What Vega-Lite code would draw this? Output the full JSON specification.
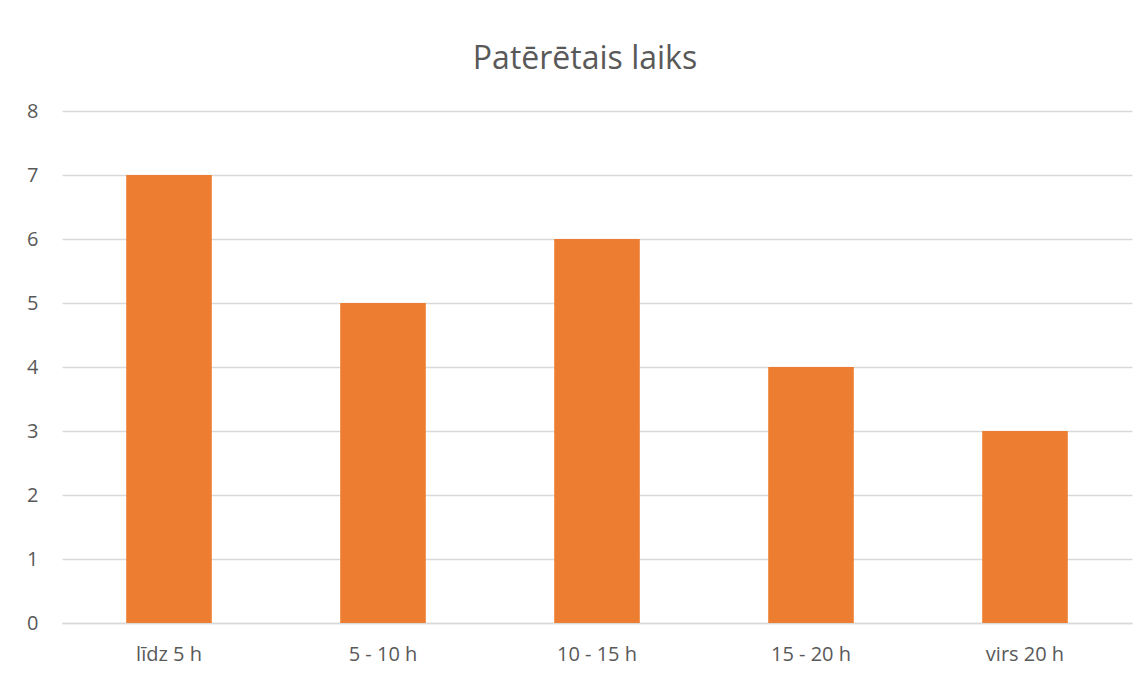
{
  "$schema": "https://vega.github.io/schema/vega-lite/v6.json",
  "width": 1070,
  "height": 512,
  "autosize": "none",
  "padding": {"left": 62, "top": 111, "right": 15, "bottom": 54},
  "background": "white",
  "title": {
    "text": "Patērētais laiks",
    "font": "Open Sans",
    "fontSize": 32,
    "fontWeight": "normal",
    "color": "#595959",
    "anchor": "middle",
    "dx": -12,
    "offset": 25
  },
  "data": {
    "values": [
      {"kategorija": "līdz 5 h", "skaits": 7},
      {"kategorija": "5 - 10 h", "skaits": 5},
      {"kategorija": "10 - 15 h", "skaits": 6},
      {"kategorija": "15 - 20 h", "skaits": 4},
      {"kategorija": "virs 20 h", "skaits": 3}
    ]
  },
  "mark": {"type": "bar", "color": "#ED7D31"},
  "encoding": {
    "x": {
      "field": "kategorija",
      "type": "nominal",
      "sort": null,
      "scale": {"paddingInner": 0.6, "paddingOuter": 0.3},
      "axis": {
        "title": null,
        "labelAngle": 0,
        "labelFont": "Open Sans",
        "labelFontSize": 20,
        "labelColor": "#595959",
        "labelPadding": 21,
        "ticks": false,
        "domainColor": "#D9D9D9",
        "domainWidth": 1.3,
        "grid": false
      }
    },
    "y": {
      "field": "skaits",
      "type": "quantitative",
      "scale": {"domain": [0, 8], "nice": false},
      "axis": {
        "title": null,
        "values": [0, 1, 2, 3, 4, 5, 6, 7, 8],
        "labelOverlap": false,
        "labelFont": "Open Sans",
        "labelFontSize": 20,
        "labelColor": "#595959",
        "labelPadding": 24,
        "ticks": false,
        "domain": false,
        "gridColor": "#D9D9D9",
        "gridWidth": 1.3
      }
    }
  },
  "config": {
    "view": {"stroke": null}
  }
}
